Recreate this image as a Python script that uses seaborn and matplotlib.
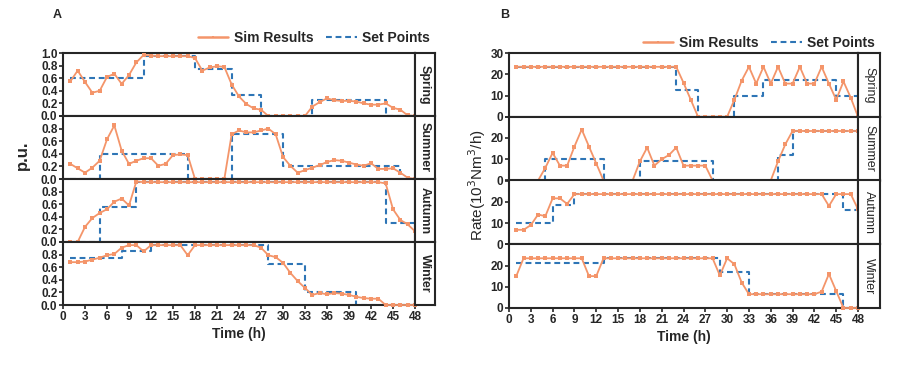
import numpy as np
import pandas as pd
import matplotlib
matplotlib.use('Agg')
import matplotlib.pyplot as plt
import seaborn as sns
from matplotlib.lines import Line2D

sns.set_style('ticks')
plt.rcParams['font.family'] = ['Liberation Sans', 'DejaVu Sans']

# 数据
hours = list(range(1, 49))
seasons = ['Spring', 'Summer', 'Autumn', 'Winter']

# A: p.u.
sim_a_spring = [0.55, 0.72, 0.54, 0.37, 0.40, 0.62, 0.67, 0.51, 0.65, 0.85,
                0.97, 0.96, 0.95, 0.95, 0.95, 0.95, 0.95, 0.92, 0.72, 0.77,
                0.79, 0.78, 0.50, 0.31, 0.19, 0.12, 0.10, 0.0, 0.0, 0.0,
                0.0, 0.0, 0.0, 0.15, 0.22, 0.28, 0.25, 0.24, 0.24, 0.23,
                0.20, 0.18, 0.18, 0.20, 0.13, 0.10, 0.01, 0.0]
sim_a_summer = [0.24, 0.17, 0.10, 0.18, 0.29, 0.63, 0.85, 0.45, 0.24, 0.29,
                0.33, 0.33, 0.21, 0.24, 0.38, 0.39, 0.38, 0.0, 0.0, 0.0,
                0.0, 0.0, 0.71, 0.77, 0.74, 0.74, 0.77, 0.80, 0.71, 0.35,
                0.21, 0.10, 0.14, 0.18, 0.22, 0.27, 0.30, 0.29, 0.26, 0.23,
                0.21, 0.25, 0.16, 0.16, 0.17, 0.10, 0.02, 0.0]
sim_a_autumn = [0.0, 0.0, 0.24, 0.38, 0.46, 0.52, 0.64, 0.69, 0.58, 0.96,
                0.95, 0.95, 0.95, 0.95, 0.95, 0.95, 0.95, 0.95, 0.95, 0.95,
                0.95, 0.95, 0.95, 0.95, 0.95, 0.95, 0.95, 0.95, 0.95, 0.95,
                0.95, 0.95, 0.95, 0.95, 0.95, 0.95, 0.95, 0.95, 0.95, 0.95,
                0.95, 0.95, 0.95, 0.93, 0.52, 0.35, 0.28, 0.17]
sim_a_winter = [0.68, 0.68, 0.69, 0.72, 0.75, 0.79, 0.81, 0.91, 0.95, 0.95,
                0.85, 0.95, 0.95, 0.95, 0.95, 0.95, 0.79, 0.95, 0.95, 0.95,
                0.95, 0.95, 0.95, 0.95, 0.95, 0.95, 0.91, 0.79, 0.76, 0.67,
                0.51, 0.38, 0.27, 0.16, 0.19, 0.17, 0.19, 0.18, 0.16, 0.13,
                0.11, 0.10, 0.10, 0.0, 0.0, 0.0, 0.0, 0.0]

sp_a_spring_t = [1, 11, 18, 23, 27, 34, 44, 48]
sp_a_spring_v = [0.6, 0.95, 0.75, 0.33, 0.0, 0.25, 0.0, 0.0]
sp_a_summer_t = [1, 5, 17, 23, 30, 46, 48]
sp_a_summer_v = [0.0, 0.4, 0.0, 0.72, 0.2, 0.0, 0.0]
sp_a_autumn_t = [1, 5, 10, 44, 48]
sp_a_autumn_v = [0.0, 0.55, 0.95, 0.3, 0.3]
sp_a_winter_t = [1, 8, 12, 28, 33, 40, 48]
sp_a_winter_v = [0.75, 0.85, 0.95, 0.65, 0.2, 0.0, 0.0]

# B: Rate
sim_b_spring = [23.5] * 23 + [16, 8, 0, 0, 0, 0, 0,
                8, 17, 23.5, 15.6, 23.5, 15.6, 23.5, 15.6, 15.6, 23.5,
                15.6, 15.6, 23.5, 15.6, 8, 16.6, 9, 0]
sim_b_summer = [0, 0, 0, 0, 6, 13, 7, 7, 16, 24,
                16, 8, 0, 0, 0, 0, 0, 9, 15.5, 7,
                10, 12, 15.5, 7, 7, 7, 7, 0, 0, 0,
                0, 0, 0, 0, 0, 0, 9, 17, 23.3, 23.3,
                23.3, 23.3, 23.3, 23.3, 23.3, 23.3, 23.3, 23.3]
sim_b_autumn = [6.8, 6.8, 9, 14, 13.2, 21.6, 21.6, 19, 23.6] + [23.6] * 34 + \
               [18, 23.6, 23.6, 23.6, 16.5]
sim_b_winter = [15] + [23.4] * 9 + [15, 15] + [23.4] * 16 + [15.3, 23.4,
                20.6, 12, 6.5, 6.5, 6.5, 6.5, 6.5, 6.5, 6.5, 6.5,
                6.5, 6.5, 7.7, 16, 8, 0, 0, 0]

sp_b_spring_t = [1, 23, 26, 31, 35, 45, 48]
sp_b_spring_v = [23.5, 12.5, 0, 10, 17.5, 10, 10]
sp_b_summer_t = [1, 5, 13, 18, 28, 37, 39, 48]
sp_b_summer_v = [0, 10, 0, 9, 0, 12, 23.3, 23.3]
sp_b_autumn_t = [1, 6, 9, 46, 48]
sp_b_autumn_v = [10, 18.5, 23.6, 16, 16]
sp_b_winter_t = [1, 13, 29, 33, 46, 48]
sp_b_winter_v = [21, 23.4, 17, 6.5, 0, 0]

sim_a = [sim_a_spring, sim_a_summer, sim_a_autumn, sim_a_winter]
sp_a = [(sp_a_spring_t, sp_a_spring_v), (sp_a_summer_t, sp_a_summer_v),
        (sp_a_autumn_t, sp_a_autumn_v), (sp_a_winter_t, sp_a_winter_v)]
sim_b = [sim_b_spring, sim_b_summer, sim_b_autumn, sim_b_winter]
sp_b = [(sp_b_spring_t, sp_b_spring_v), (sp_b_summer_t, sp_b_summer_v),
        (sp_b_autumn_t, sp_b_autumn_v), (sp_b_winter_t, sp_b_winter_v)]

c_sim = '#F4956A'
c_sp = '#2E75B6'
W, H = 906, 376

fig = plt.figure(figsize=(W / 100, H / 100), dpi=100)


def draw_panel(left, right, top, bottom, sims, sps, ymax, yticks, ylabels,
               ylabel, ylabel_kw, ylabel_xy, strip_w, strip_bold):
    row_h = (bottom - top) / 4
    for i in range(4):
        y0 = top + row_h * i
        ax = fig.add_axes([left / W, 1 - (y0 + row_h) / H,
                           (right - left) / W, row_h / H])
        sns.lineplot(x=hours, y=sims[i], ax=ax, color=c_sim, lw=1.3,
                     marker='s', markersize=2.6, markeredgewidth=0,
                     clip_on=False, zorder=3)
        t, v = sps[i]
        sns.lineplot(x=t, y=v, ax=ax, color=c_sp, lw=1.5,
                     drawstyle='steps-post', linestyle=(0, (2.8, 1.8)), zorder=2)
        ax.set_xlim(0, 48)
        ax.set_ylim(0, ymax)
        ax.set_yticks(yticks)
        labs = list(ylabels)
        if i > 0:
            labs[-1] = ''
        ax.set_yticklabels(labs, fontsize=8.5, fontweight='bold')
        ax.set_xticks(range(0, 49, 3))
        if i == 3:
            ax.set_xticklabels([str(x) for x in range(0, 49, 3)],
                               fontsize=8.5, fontweight='bold')
            ax.set_xlabel('Time (h)', fontsize=10, fontweight='bold', labelpad=3)
        else:
            ax.tick_params(axis='x', length=0)
            ax.set_xticklabels([])
        ax.set_ylabel('')
        ax.tick_params(axis='both', direction='out', width=1.2, length=3, pad=1)
        for s in ax.spines.values():
            s.set_linewidth(1.5)
            s.set_visible(True)

        sax = fig.add_axes([right / W, 1 - (y0 + row_h) / H,
                            strip_w / W, row_h / H])
        sax.set_xticks([])
        sax.set_yticks([])
        for s in sax.spines.values():
            s.set_linewidth(1.5)
        sax.text(0.5, 0.5, seasons[i], rotation=270, ha='center', va='center',
                 fontsize=9, fontweight='bold' if strip_bold else 'normal',
                 transform=sax.transAxes)

    fig.text(ylabel_xy[0] / W, 1 - ylabel_xy[1] / H, ylabel, rotation=90,
             ha='center', va='center', **ylabel_kw)


draw_panel(63, 415, 53, 305, sim_a, sp_a, 1.0,
           [0, 0.2, 0.4, 0.6, 0.8, 1.0],
           ['0.0', '0.2', '0.4', '0.6', '0.8', '1.0'],
           'p.u.', dict(fontsize=12, fontweight='bold'), (22, 155), 20, True)
draw_panel(509, 858, 53, 308, sim_b, sp_b, 30,
           [0, 10, 20, 30], ['0', '10', '20', '30'],
           'Rate(10$^3$Nm$^3$/h)', dict(fontsize=11), (477, 185), 22, False)

fig.text(57 / W, 1 - 15 / H, 'A', fontsize=9, fontweight='bold',
         ha='center', va='center')
fig.text(505 / W, 1 - 15 / H, 'B', fontsize=9, fontweight='bold',
         ha='center', va='center')

handles = [Line2D([], [], color=c_sim, lw=1.8, marker='s', markersize=2,
                  markeredgewidth=0),
           Line2D([], [], color=c_sp, lw=1.5, linestyle=(0, (2.8, 1.8)))]
labels = ['Sim Results', 'Set Points']
for xr, yc in [(437, 38), (882, 43)]:
    fig.legend(handles, labels, loc='center right',
               bbox_to_anchor=(xr / W, 1 - yc / H), ncol=2, frameon=False,
               prop=dict(size=10, weight='bold'), handlelength=2.2,
               handletextpad=0.4, columnspacing=0.9, borderpad=0)

fig.savefig('out.png', dpi=100)
